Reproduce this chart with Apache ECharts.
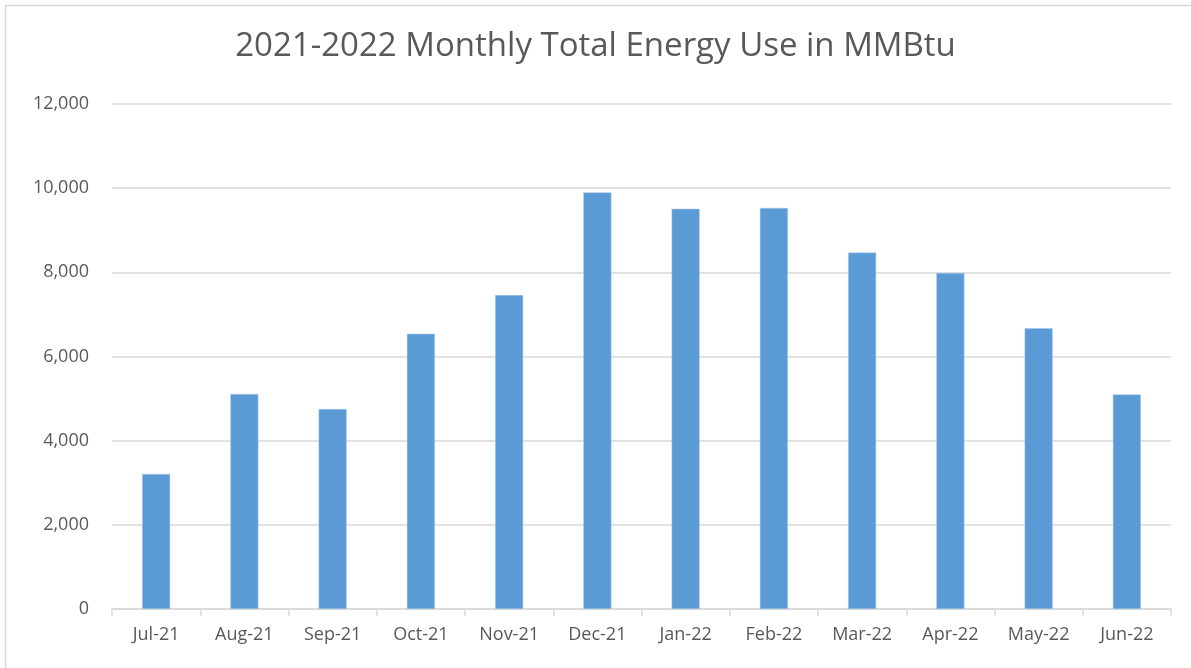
<!DOCTYPE html>
<html>
<head>
<meta charset="utf-8">
<script src="https://cdn.jsdelivr.net/npm/echarts@6/dist/echarts.min.js"></script>
<style>
  html, body { margin: 0; padding: 0; background: #fff; }
  #chart { width: 1191px; height: 668px; }
</style>
</head>
<body>
<div id="chart"></div>
<script>
var months = ['Jul-21', 'Aug-21', 'Sep-21', 'Oct-21', 'Nov-21', 'Dec-21',
  'Jan-22', 'Feb-22', 'Mar-22', 'Apr-22', 'May-22', 'Jun-22'];
var energyUse = [3210, 5110, 4750, 6540, 7460, 9900, 9510, 9530, 8470, 7985, 6670, 5100];

var chartDom = document.getElementById('chart');
var myChart = echarts.init(chartDom);
var option;

option = {
  backgroundColor: '#fff',
  textStyle: { fontFamily: 'Open Sans' },
  title: {
    text: '2021-2022 Monthly Total Energy Use in MMBtu',
    left: 'center',
    top: 25,
    textStyle: {
      fontFamily: 'Open Sans',
      fontSize: 33,
      fontWeight: 'normal',
      color: '#595959'
    }
  },
  graphic: [{
    type: 'rect',
    shape: { x: 5.5, y: 5.5, width: 1200, height: 700 },
    style: { fill: 'none', stroke: '#d9d9d9', lineWidth: 1.5 },
    silent: true
  }],
  grid: { left: 112, right: 20, top: 104, bottom: 59 },
  xAxis: {
    type: 'category',
    data: months,
    axisLine: { lineStyle: { color: '#d9d9d9', width: 1.5 } },
    axisTick: { show: true, length: 7, lineStyle: { color: '#d9d9d9', width: 1.5 } },
    axisLabel: { color: '#595959', fontSize: 18, margin: 17 }
  },
  yAxis: {
    type: 'value',
    min: 0,
    max: 12000,
    interval: 2000,
    axisLine: { show: false },
    axisTick: { show: false },
    splitLine: { lineStyle: { color: '#d9d9d9', width: 1.5 } },
    axisLabel: {
      color: '#595959',
      fontSize: 18,
      margin: 23,
      formatter: function (v) { return v.toLocaleString('en-US'); }
    }
  },
  series: [{
    type: 'bar',
    data: energyUse,
    barWidth: 28,
    itemStyle: { color: '#5b9bd5', borderColor: '#a9c9ea', borderWidth: 0.5 }
  }]
};

option && myChart.setOption(option);
</script>
</body>
</html>
